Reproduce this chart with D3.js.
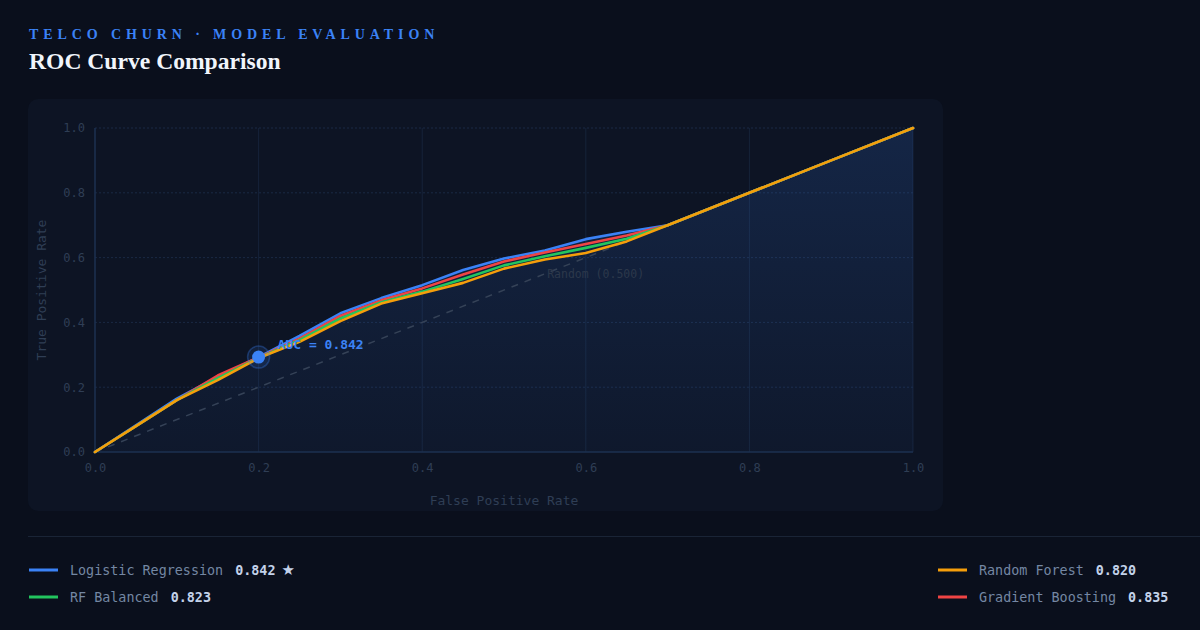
<!DOCTYPE html>
<html><head><meta charset="utf-8">
<script src="https://cdn.jsdelivr.net/npm/d3@7"></script>
<style>
html,body{margin:0;padding:0;background:#0a0f1c;}
svg{display:block;}
</style></head>
<body>
<svg id="c" width="1200" height="630"></svg>
<script>
const fprPoints = [0,0.05,0.1,0.15,0.2,0.25,0.3,0.35,0.4,0.45,0.5,0.55,0.6,0.65,0.7,0.8,0.9,1.0];
const tprLogistic = [0,0.082,0.165,0.232,0.293,0.358,0.428,0.475,0.515,0.562,0.597,0.622,0.657,0.680,0.70,0.8,0.9,1.0];
const tprGradient = [0,0.08,0.16,0.236,0.292,0.35,0.42,0.468,0.505,0.548,0.588,0.616,0.642,0.668,0.70,0.8,0.9,1.0];
const tprRFBal    = [0,0.08,0.16,0.228,0.29,0.345,0.412,0.462,0.495,0.534,0.576,0.604,0.63,0.658,0.70,0.8,0.9,1.0];
const tprRF       = [0,0.08,0.16,0.222,0.29,0.34,0.404,0.458,0.49,0.522,0.566,0.594,0.614,0.65,0.70,0.8,0.9,1.0];
const modelNames = ["Logistic Regression","RF Balanced","Random Forest","Gradient Boosting"];
const modelAUC = ["0.842","0.823","0.820","0.835"];
const modelColors = ["#3b82f6","#22c55e","#f59e0b","#ef4444"];
const axisTicks = [0,0.2,0.4,0.6,0.8,1.0];

const svg = d3.select("#c");
const W=1200,H=630;
svg.append("rect").attr("width",W).attr("height",H).attr("fill","#0a0f1c");

// header
svg.append("text").attr("x",29).attr("y",39)
  .attr("font-family","'Liberation Serif','DejaVu Serif',serif").attr("font-weight","bold")
  .attr("font-size",14).attr("letter-spacing","4.9px").attr("fill","#3b82f6")
  .text("TELCO CHURN · MODEL EVALUATION");
svg.append("text").attr("x",29).attr("y",69)
  .attr("font-family","'Liberation Serif','DejaVu Serif',serif").attr("font-weight","bold")
  .attr("font-size",23.6).attr("fill","#f1f5fb")
  .text("ROC Curve Comparison");

// panel
svg.append("rect").attr("x",28).attr("y",99).attr("width",915).attr("height",412)
  .attr("rx",10).attr("fill","#0d1424");

const x = d3.scaleLinear().domain([0,1]).range([95,913]);
const y = d3.scaleLinear().domain([0,1]).range([452,128]);

const defs = svg.append("defs");
const grad = defs.append("linearGradient").attr("id","fillg").attr("x1",0).attr("y1",0).attr("x2",0).attr("y2",1);
grad.append("stop").attr("offset","0%").attr("stop-color","#3b82f6").attr("stop-opacity",0.16);
grad.append("stop").attr("offset","100%").attr("stop-color","#3b82f6").attr("stop-opacity",0.04);

const g = svg.append("g");
// grid
g.selectAll(".vg").data(axisTicks.slice(1)).enter().append("line")
  .attr("x1",d=>x(d)).attr("x2",d=>x(d)).attr("y1",y(0)).attr("y2",y(1))
  .attr("stroke","#16233a").attr("stroke-width",1);
g.selectAll(".hg").data(axisTicks.slice(1)).enter().append("line")
  .attr("x1",x(0)).attr("x2",x(1)).attr("y1",d=>y(d)).attr("y2",d=>y(d))
  .attr("stroke","#1a2944").attr("stroke-width",1).attr("stroke-dasharray","2,2");

const series = [
  {name:modelNames[0],tpr:tprLogistic,color:modelColors[0]},
  {name:modelNames[3],tpr:tprGradient,color:modelColors[3]},
  {name:modelNames[1],tpr:tprRFBal,color:modelColors[1]},
  {name:modelNames[2],tpr:tprRF,color:modelColors[2]}
];
const pts = s => fprPoints.map((f,i)=>[f,s.tpr[i]]);
const area = d3.area().x(d=>x(d[0])).y0(y(0)).y1(d=>y(d[1])).curve(d3.curveLinear);
g.append("path").datum(pts(series[0])).attr("d",area).attr("fill","url(#fillg)");

// axes lines
g.append("line").attr("x1",x(0)).attr("x2",x(0)).attr("y1",y(0)).attr("y2",y(1)).attr("stroke","#1c3050").attr("stroke-width",1.5);
g.append("line").attr("x1",x(0)).attr("x2",x(1)).attr("y1",y(0)).attr("y2",y(0)).attr("stroke","#1c3050").attr("stroke-width",1.5);

const mono = "'DejaVu Sans Mono',monospace";
const xAxis = g.append("g").attr("transform",`translate(0,${y(0)})`)
  .call(d3.axisBottom(x).tickValues(axisTicks).tickFormat(d3.format(".1f")).tickSize(0).tickPadding(11));
const yAxis = g.append("g").attr("transform",`translate(${x(0)},0)`)
  .call(d3.axisLeft(y).tickValues(axisTicks).tickFormat(d3.format(".1f")).tickSize(0).tickPadding(10));
[xAxis,yAxis].forEach(a=>{
  a.select(".domain").remove();
  a.selectAll("text").attr("font-family",mono).attr("font-size",12).attr("fill","#2f3e55");
});

// random diagonal
g.append("line").attr("x1",x(0)).attr("y1",y(0)).attr("x2",x(1)).attr("y2",y(1))
  .attr("stroke","#354257").attr("stroke-width",1.5).attr("stroke-dasharray","7,7");
g.append("text").attr("x",x(0.612)).attr("y",y(0.6)+20).attr("text-anchor","middle")
  .attr("font-family",mono).attr("font-size",11.5).attr("fill","#2c384b").text("Random (0.500)");

// curves
const line = d3.line().x(d=>x(d[0])).y(d=>y(d[1])).curve(d3.curveLinear);
series.forEach(s=>{
  g.append("path").datum(pts(s)).attr("d",line).attr("fill","none")
    .attr("stroke",s.color).attr("stroke-width",2.6).attr("stroke-linejoin","round").attr("stroke-linecap","round");
});

// highlight dot at fpr 0.2
const hx = x(fprPoints[4]), hy = y(tprLogistic[4]);
g.append("circle").attr("cx",hx).attr("cy",hy).attr("r",11).attr("fill","#3b82f6").attr("fill-opacity",0.12)
  .attr("stroke","#3b82f6").attr("stroke-opacity",0.3).attr("stroke-width",1.5);
g.append("circle").attr("cx",hx).attr("cy",hy).attr("r",6.5).attr("fill","#3b82f6");
g.append("text").attr("x",hx+19).attr("y",hy-8).attr("font-family",mono).attr("font-weight","bold")
  .attr("font-size",13).attr("fill","#3b82f6").text("AUC = "+modelAUC[0]);

// axis titles
g.append("text").attr("x",(x(0)+x(1))/2).attr("y",505).attr("text-anchor","middle")
  .attr("font-family",mono).attr("font-size",13).attr("fill","#2f3e55").text("False Positive Rate");
g.append("text").attr("transform",`translate(46,${(y(0)+y(1))/2}) rotate(-90)`).attr("text-anchor","middle")
  .attr("font-family",mono).attr("font-size",13).attr("fill","#2f3e55").text("True Positive Rate");

// separator
svg.append("line").attr("x1",28).attr("x2",1200).attr("y1",536.5).attr("y2",536.5).attr("stroke","#1a2436").attr("stroke-width",1);

// legend
const legPos = [[29,570],[29,597],[938,570],[938,597]];
modelNames.forEach((n,i)=>{
  const [lx,ly] = legPos[i];
  const lg = svg.append("g").attr("transform",`translate(${lx},${ly})`);
  lg.append("line").attr("x1",0).attr("x2",29).attr("y1",0).attr("y2",0).attr("stroke",modelColors[i]).attr("stroke-width",3);
  const t = lg.append("text").attr("x",41).attr("y",5).attr("font-family",mono).attr("font-size",13.4);
  t.append("tspan").attr("fill","#7487a3").text(n);
  t.append("tspan").attr("dx",12).attr("fill","#c3d2ea").attr("font-weight","bold").text(modelAUC[i]);
  if(i===0) t.append("tspan").attr("dx",6).attr("fill","#c3d2ea").attr("font-family","'DejaVu Sans',sans-serif").attr("font-size",15).text("★");
});
</script>
</body></html>
